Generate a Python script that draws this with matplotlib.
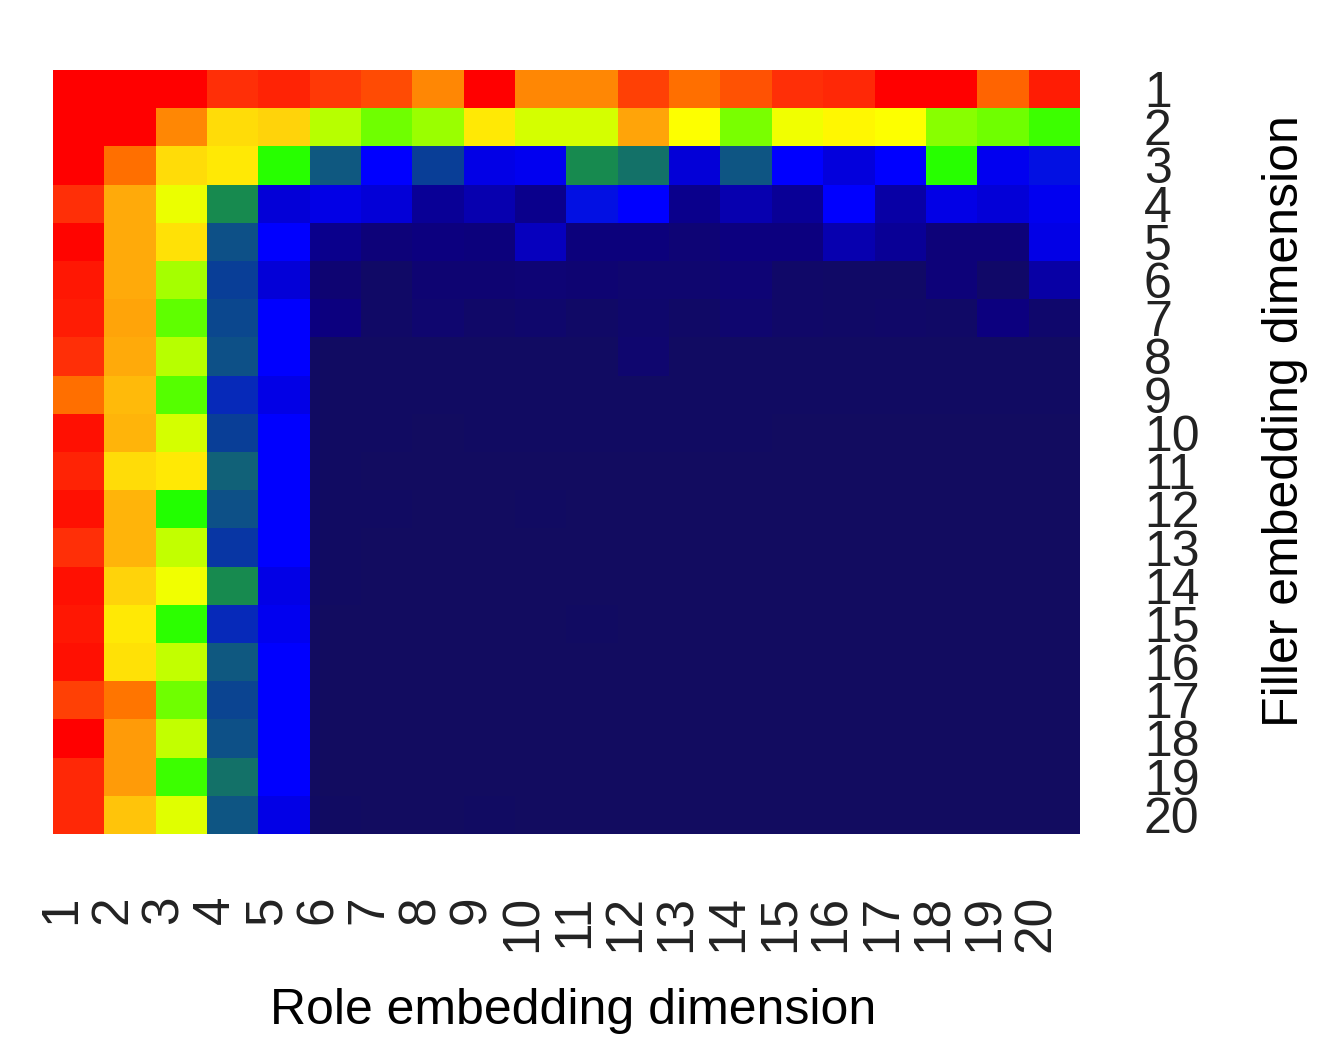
import matplotlib
matplotlib.use('Agg')
import matplotlib.pyplot as plt
from matplotlib.colors import LinearSegmentedColormap
from matplotlib.transforms import ScaledTranslation
import numpy as np

plt.rcParams['font.family'] = ['Liberation Sans', 'DejaVu Sans']

role_labels = [str(i) for i in range(1, 21)]
filler_labels = [str(i) for i in range(1, 21)]

# strength per filler dimension (rows), role dimension (columns), read by eye
row_01 = [100, 100, 100, 92, 94, 91, 89, 82, 100, 82, 82, 90, 85, 88, 92, 93, 100, 100, 86, 95]
row_02 = [100, 100, 82, 71, 72, 61, 56, 59, 69, 63, 63, 78, 66, 57, 65, 67, 66, 58, 56, 52]
row_03 = [100, 85, 71, 69, 50.5, 32, 20, 26, 18, 19, 38, 35, 17, 31, 20, 17.5, 20, 50.5, 19, 21.5]
row_04 = [92, 77, 64.5, 38, 17, 18, 17, 12, 14, 11, 21.5, 20, 11, 14, 12, 20, 13, 18, 17, 19]
row_05 = [99, 77, 70, 30, 20, 11, 8, 10, 9, 15, 9, 9, 7, 10, 10, 14, 12, 8, 8, 18]
row_06 = [96, 77, 60, 26, 17, 6, 2, 6, 6, 7, 6, 5, 5, 7, 3, 2, 2, 8, 3, 13]
row_07 = [95, 78, 55, 28, 20, 10, 2, 5, 3, 4, 2, 4, 2, 5, 3, 2, 3, 2, 10, 4]
row_08 = [92, 77, 61, 30, 20, 1, 1, 1, 1, 1, 1, 5, 1, 1, 1, 1, 1, 1, 1, 1]
row_09 = [85, 75, 54, 24, 18, 1, 1, 1, 1, 1, 1, 1, 1, 1, 1, 1, 1, 1, 1, 1]
row_10 = [97, 76, 63, 26, 20, 1, 1, 0, 1, 1, 1, 1, 1, 1, 0, 0, 0, 0, 0, 0]
row_11 = [94, 71, 69, 33, 20, 1, 0, 0, 0, 0, 0, 0, 0, 0, 0, 0, 0, 0, 0, 0]
row_12 = [97, 76, 50, 30, 20, 1, 1, 0, 0, 1, 0, 0, 0, 0, 0, 0, 0, 0, 0, 0]
row_13 = [92, 76, 62, 25, 20, 1, 0, 0, 0, 0, 0, 0, 0, 0, 0, 0, 0, 0, 0, 0]
row_14 = [97, 72, 65, 38, 18, 1, 0, 0, 0, 0, 0, 0, 0, 0, 0, 0, 0, 0, 0, 0]
row_15 = [96, 69, 51, 24, 19, 0, 0, 0, 0, 0, 1, 0, 0, 0, 0, 0, 0, 0, 0, 0]
row_16 = [97, 70, 62, 32, 20, 0, 0, 0, 0, 0, 0, 0, 0, 0, 0, 0, 0, 0, 0, 0]
row_17 = [90, 84, 56, 27, 20, 0, 0, 0, 0, 0, 0, 0, 0, 0, 0, 0, 0, 0, 0, 0]
row_18 = [100, 79, 62, 30, 20, 0, 0, 0, 0, 0, 0, 0, 0, 0, 0, 0, 0, 0, 0, 0]
row_19 = [93, 79, 52, 35, 20, 0, 0, 0, 0, 0, 0, 0, 0, 0, 0, 0, 0, 0, 0, 0]
row_20 = [93, 74, 64, 31, 18, 1, 0, 0, 1, 0, 0, 0, 0, 0, 0, 0, 0, 0, 0, 0]

values = np.array([row_01, row_02, row_03, row_04, row_05, row_06, row_07, row_08, row_09, row_10,
                   row_11, row_12, row_13, row_14, row_15, row_16, row_17, row_18, row_19, row_20])

cmap = LinearSegmentedColormap.from_list('rainbow_navy', [
    (0.00, '#120c60'), (0.10, '#0c0080'), (0.20, '#0000ff'), (0.26, '#0a4095'),
    (0.32, '#105a80'), (0.38, '#178a50'), (0.50, '#20ff00'), (0.58, '#88ff00'),
    (0.66, '#ffff00'), (0.72, '#ffd50a'), (0.78, '#ffa50a'), (0.85, '#ff7000'),
    (0.92, '#ff3008'), (1.00, '#ff0000')])

fig = plt.figure(figsize=(13.18, 10.43), dpi=100)
ax = fig.add_axes([53 / 1318, 1 - 834 / 1043, 1027 / 1318, 764 / 1043])
ax.imshow(values, cmap=cmap, vmin=0, vmax=100, aspect='auto', interpolation='nearest')

ax.set_xticks(range(20))
ax.set_xticklabels(role_labels, rotation=90, fontsize=37, va='top', ha='right', color='#222222')
ax.yaxis.tick_right()
ax.set_yticks(range(20))
ax.set_yticklabels(filler_labels, fontsize=36, ha='left', va='center', color='#222222')
ax.tick_params(axis='x', length=0, pad=44)
ax.tick_params(axis='y', length=0, pad=46)
for s in ax.spines.values():
    s.set_visible(False)

# nudge tick labels to sit where the original has them
for lab in ax.get_xticklabels():
    lab.set_transform(lab.get_transform() + ScaledTranslation(0.07, 0, fig.dpi_scale_trans))
for lab in ax.get_yticklabels():
    lab.set_transform(lab.get_transform() + ScaledTranslation(0, -0.05, fig.dpi_scale_trans))

fig.text(573 / 1318, 1 - 1011 / 1043, 'Role embedding dimension', fontsize=36,
         ha='center', va='center', color='black')
fig.text(1285 / 1318, 1 - 421 / 1043, 'Filler embedding dimension', fontsize=36,
         rotation=90, ha='center', va='center', color='black')

fig.savefig('out.png', dpi=100)
